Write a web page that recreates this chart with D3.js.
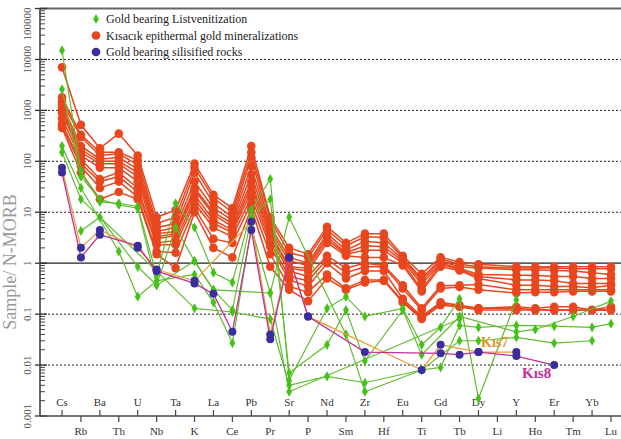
<!DOCTYPE html>
<html>
<head>
<meta charset="utf-8">
<script src="https://cdn.jsdelivr.net/npm/d3@7"></script>
<style>
body { margin: 0; background: #fff; }
text { font-family: "Liberation Serif", "Times New Roman", serif; }
</style>
</head>
<body>
<div id="main"></div>
<script>
// element order on the x axis (even ones labelled on top, odd ones below)
var elements = ["Cs","Rb","Ba","Th","U","Nb","Ta","K","La","Ce","Pb","Pr","Sr","P","Nd","Sm","Zr","Hf","Eu","Ti","Gd","Tb","Dy","Li","Y","Ho","Er","Tm","Yb","Lu"];

var yTickValues = [0.001, 0.01, 0.1, 1, 10, 100, 1000, 10000, 100000];
var yTickLabels = ["0.001", "0.01", "0.1", "1", "10", "100", "1000", "10000", "100000"];

var legendLabels = ["Gold bearing Listvenitization", "Kısacık epithermal gold mineralizations", "Gold bearing silisified rocks"];

// Kisacik epithermal gold mineralizations (red)
var kis1  = [7000, 520, 180, 350, 130, 8, 11, 90, 22, 12, 200, 8, 2, 1.5, 5.2, 2.5, 3.8, 3.8, 1.4, 0.62, 1.3, 1.05, 0.95, null, 0.86, 0.85, 0.85, 0.85, 0.85, 0.85];
var kis2  = [1800, 330, 150, 150, 105, 6, 8, 75, 19, 10, 150, 7, 1.6, 1.3, 4.5, 2.2, 3.3, 3.2, 1.3, 0.5, 1.2, 0.95, 0.85, null, 0.8, 0.8, 0.8, 0.78, 0.78, 0.78];
var kis3  = [1500, 300, 130, 140, 85, 5, 6, 60, 15, 8, 120, 5.2, 1.3, 1.0, 3.8, 1.8, 2.7, 2.5, 1.2, 0.45, 1.1, 0.85, 0.8, null, 0.74, 0.74, 0.72, 0.7, 0.65, 0.6];
var kis4  = [1300, 200, 110, 120, 70, 4.2, 5, 40, 12, 7, 80, 4.5, 1.1, 0.9, 3.3, 1.6, 2.2, 2.1, 1.1, 0.39, 1.0, 0.8, 0.6, null, 0.58, 0.58, 0.55, 0.55, 0.5, 0.5];
var kis5  = [1100, 170, 100, 100, 60, 3.8, 4.2, 30, 10, 6, 55, 4, 0.85, 0.8, 2.9, 1.5, 1.8, 1.8, 1.0, 0.31, 0.95, 0.75, 0.55, null, 0.47, 0.47, 0.45, 0.4, 0.4, 0.4];
var kis6  = [1000, 150, 90, 90, 50, 3.3, 3.8, 27, 9, 5.2, 40, 3.6, 0.8, 0.7, 2.5, 1.4, 1.3, 1.3, 0.9, 0.28, 0.85, 0.72, 0.5, null, 0.37, 0.37, 0.35, 0.35, 0.33, 0.37];
var kis7r = [900, 130, 75, 75, 40, 3, 3.5, 22, 7, 4.5, 33, 3, 0.7, 0.55, 1.4, 0.8, 1.0, 0.9, 0.37, 0.13, 0.36, 0.37, 0.38, null, 0.3, 0.3, 0.3, 0.3, 0.3, 0.3];
var kis8r = [700, 110, 45, 60, 30, 2.5, 2.8, 18, 6, 4, 26, 2.5, 0.55, 0.45, 1.2, 0.65, 0.85, 0.85, 0.32, 0.12, 0.32, 0.34, 0.3, null, 0.26, 0.27, 0.27, 0.28, 0.28, 0.28];
var kis9  = [550, 90, 40, 50, 25, 2.3, 2.3, 15, 5, 3.3, 20, 2.1, 0.47, 0.35, 1.0, 0.5, 0.7, 0.7, 0.2, 0.09, 0.17, 0.15, 0.13, null, 0.14, 0.13, 0.14, 0.14, 0.12, 0.14];
var kis10 = [500, 80, 30, 40, 20, 1.7, 1.6, 12, 3, 2.5, 15, 1.5, 0.35, 0.27, 0.6, 0.32, 0.47, 0.47, 0.18, 0.085, 0.16, 0.14, 0.13, null, 0.13, 0.12, 0.12, 0.12, 0.12, 0.12];
var kis11 = [450, 60, 18, 25, 18, 1.5, 0.8, 10, 2, 1.3, 12, 0.85, 0.3, 0.18, 0.5, 0.3, 0.42, 0.45, 0.17, 0.08, 0.15, 0.14, 0.12, null, 0.12, 0.12, 0.12, 0.12, 0.12, 0.12];

// Gold bearing listvenitization (green)
var lis1 = [15000, 65, 16, 15, 13, 0.58, 15, 5, 0.65, 0.42, 11, 45, 0.005, null, 0.13, 0.22, 0.09, null, 0.13, 0.025, 0.055, 0.2, 0.0022, null, 0.19, null, null, null, null, null];
var lis2 = [2600, 50, 18, 14, 12, 0.37, 5, 1.1, 0.3, 0.12, 8, 18, 0.007, null, 0.025, 0.12, 0.012, null, 0.12, 0.016, null, 0.09, null, null, 0.045, 0.05, null, 0.09, null, 0.18];
var lis3 = [200, 30, null, 1.7, 0.22, 0.45, null, 0.6, 0.17, 0.027, 5, 0.26, 8, null, null, 0.04, 0.003, null, null, 0.008, 0.009, 0.06, 0.055, null, 0.06, null, 0.058, null, 0.055, 0.065];
var lis4 = [150, 18, null, null, null, 0.7, null, 0.13, null, 0.11, null, 0.08, 0.004, null, 0.006, null, 0.0045, null, null, 0.008, null, 0.03, 0.03, null, 0.035, null, 0.027, null, 0.03, null];
var lis5 = [null, 4.3, 8, null, 0.85, 0.37, null, 1.1, 0.3, null, null, 0.26, 0.003, null, null, null, null, null, null, null, null, 0.08, null, null, null, null, null, null, null, null];

// Gold bearing silisified rocks (purple markers)
var kis7 = [75, 2, 4.5, null, 2.0, 0.75, null, 0.45, null, null, 6.5, 0.04, 1.3, 0.09, null, null, null, null, null, 0.008, 0.025, null, 0.018, null, 0.018, null, null, null, null, null];
var kis8 = [60, 1.3, 3.6, null, 2.2, 0.7, null, 0.4, 0.25, 0.045, 4.5, 0.032, 1.3, 0.09, null, null, 0.018, null, null, null, 0.017, 0.016, 0.018, null, 0.015, null, 0.01, null, null, null];

var redSeries = [kis1, kis2, kis3, kis4, kis5, kis6, kis7r, kis8r, kis9, kis10, kis11];
var greenSeries = [lis1, lis2, lis3, lis4, lis5];

var w = 621, h = 439;
var red = "#e8461e", green = "#62bc30", greenDot = "#45c21a", purple = "#3b2d9e";

var svg = d3.select("#main").append("svg")
    .attr("width", w)
    .attr("height", h);

var x = d3.scalePoint().domain(elements).range([62, 611]);
var y = d3.scaleLog().domain([0.001, 100000]).range([416, 8.5]);

// grid lines
yTickValues.forEach(function(v) {
    if (v == 0.001) return;
    svg.append("line")
	.attr("x1", 40).attr("x2", w)
	.attr("y1", y(v)).attr("y2", y(v))
	.attr("stroke", v == 100000 ? "#666" : "#222")
	.attr("stroke-width", v == 100000 ? 2.2 : (v == 1 ? 1.3 : 1))
	.attr("stroke-dasharray", (v == 1 || v == 100000) ? null : "2,2");
});

// y axis with log ticks
var minor = [];
for (var e = -3; e < 5; e++) {
    for (var m = 2; m < 10; m++) minor.push(m * Math.pow(10, e));
}
svg.selectAll(".minor").data(minor).enter().append("line")
    .attr("x1", 40).attr("x2", 45)
    .attr("y1", function(d) { return y(d); })
    .attr("y2", function(d) { return y(d); })
    .attr("stroke", "#444").attr("stroke-width", 1);
svg.selectAll(".major").data(yTickValues).enter().append("line")
    .attr("x1", 35).attr("x2", 47)
    .attr("y1", function(d) { return y(d); })
    .attr("y2", function(d) { return y(d); })
    .attr("stroke", "#333").attr("stroke-width", 1.3);
svg.append("line")
    .attr("x1", 40).attr("x2", 40).attr("y1", 8.5).attr("y2", 416)
    .attr("stroke", "#444").attr("stroke-width", 1.6);

// top label is pushed down so it stays inside the page
svg.selectAll(".ylab").data(yTickValues).enter().append("text")
    .attr("transform", function(d) { return "translate(27," + Math.max(y(d), 24) + ") rotate(-90)"; })
    .attr("text-anchor", "middle")
    .attr("dy", "0.35em")
    .attr("font-size", 11)
    .attr("fill", "#555")
    .text(function(d, i) { return yTickLabels[i]; });

svg.append("text")
    .attr("transform", "translate(16,262) rotate(-90)")
    .attr("text-anchor", "middle")
    .attr("font-size", 18)
    .attr("fill", "#999")
    .text("Sample/ N-MORB");

// x axis
svg.append("line")
    .attr("x1", 40).attr("x2", w).attr("y1", 416).attr("y2", 416)
    .attr("stroke", "#444").attr("stroke-width", 1.6);
var xt = svg.selectAll(".xt").data(elements).enter().append("g");
xt.append("line")
    .attr("x1", function(d) { return x(d); })
    .attr("x2", function(d) { return x(d); })
    .attr("y1", 416)
    .attr("y2", function(d, i) { return i % 2 == 0 ? 410 : 422; })
    .attr("stroke", "#444").attr("stroke-width", 1.2);
xt.append("text")
    .attr("x", function(d) { return x(d); })
    .attr("y", function(d, i) { return i % 2 == 0 ? 406 : 435; })
    .attr("text-anchor", "middle")
    .attr("font-size", 11)
    .attr("fill", "#333")
    .text(function(d) { return d; });

// helpers
function pts(arr) {
    return arr.map(function(v, i) { return {el: elements[i], v: v}; })
	.filter(function(d) { return d.v != null; });
}
var line = d3.line()
    .x(function(d) { return x(d.el); })
    .y(function(d) { return y(d.v); });

function drawLines(series, color, width) {
    series.forEach(function(s) {
	svg.append("path")
	    .attr("d", line(pts(s)))
	    .attr("fill", "none")
	    .attr("stroke", color)
	    .attr("stroke-width", width);
    });
}

// red
drawLines(redSeries, red, 1.5);
redSeries.forEach(function(s) {
    svg.selectAll(null).data(pts(s)).enter().append("circle")
	.attr("cx", function(d) { return x(d.el); })
	.attr("cy", function(d) { return y(d.v); })
	.attr("r", 4.3)
	.attr("fill", red);
});

// green
var diamond = d3.symbol().type(d3.symbolDiamond).size(30);
drawLines(greenSeries, green, 1.2);
greenSeries.forEach(function(s) {
    svg.selectAll(null).data(pts(s)).enter().append("path")
	.attr("d", diamond)
	.attr("transform", function(d) { return "translate(" + x(d.el) + "," + y(d.v) + ")"; })
	.attr("fill", greenDot);
});

// silisified rocks
drawLines([kis7], "#e8a03c", 1.3);
drawLines([kis8], "#c2309a", 1.3);
[kis7, kis8].forEach(function(s) {
    svg.selectAll(null).data(pts(s)).enter().append("circle")
	.attr("cx", function(d) { return x(d.el); })
	.attr("cy", function(d) { return y(d.v); })
	.attr("r", 4)
	.attr("fill", purple);
});

svg.append("text").attr("x", 481).attr("y", 347)
    .attr("font-size", 14).attr("font-weight", "bold").attr("fill", "#e0952e")
    .text("Kıs7");
svg.append("text").attr("x", 522).attr("y", 378)
    .attr("font-size", 15).attr("font-weight", "bold").attr("fill", "#c2309a")
    .text("Kıs8");

// legend
var legend = svg.selectAll(".leg").data(legendLabels).enter().append("g")
    .attr("transform", function(d, i) { return "translate(96," + (19 + i * 16.5) + ")"; });
legend.append("path")
    .attr("d", function(d, i) { return i == 0 ? d3.symbol().type(d3.symbolDiamond).size(28)() : d3.symbol().type(d3.symbolCircle).size(60)(); })
    .attr("fill", function(d, i) { return [greenDot, red, purple][i]; });
legend.append("text")
    .attr("x", 10).attr("dy", "0.35em")
    .attr("font-size", 12)
    .attr("fill", "#222")
    .text(function(d) { return d; });
</script>
</body>
</html>
